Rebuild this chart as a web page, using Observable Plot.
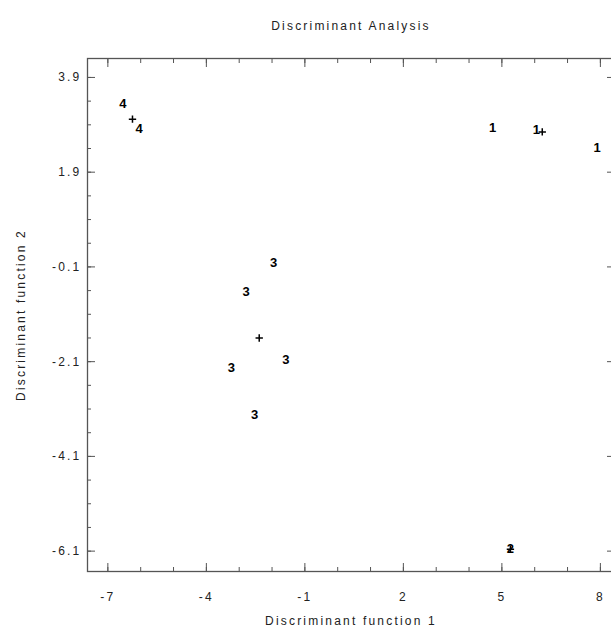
<!DOCTYPE html>
<html><head><meta charset="utf-8">
<script src="https://cdn.jsdelivr.net/npm/d3@7"></script>
<script src="https://cdn.jsdelivr.net/npm/@observablehq/plot@0.6"></script>
<style>html,body{margin:0;padding:0;background:#fff;overflow:hidden}
svg.da-chart text{letter-spacing:2.2px}
svg.da-chart g.pts text{letter-spacing:0}
</style>
</head><body><div id="chart"></div>
<script>
const title = "Discriminant Analysis";
const xLabel = "Discriminant function 1";
const yLabel = "Discriminant function 2";
const groups = ["4","4","1","1","1","3","3","3","3","3","2"];
const df1 = [-6.54,-6.05,4.72,6.05,7.90,-1.95,-2.79,-1.58,-3.24,-2.53,5.26];
const df2 = [3.34,2.81,2.84,2.79,2.41,-0.01,-0.63,-2.06,-2.23,-3.23,-6.06];
const centroidX = [-6.25, 6.23, -2.39, 5.26];
const centroidY = [3.02, 2.75, -1.60, -6.06];
const xMajorTicks = [-7,-4,-1,2,5,8];
const xMinorTicks = [-7,-6,-5,-4,-3,-2,-1,0,1,2,3,4,5,6,7,8];
const yMajorTicks = [3.9,1.9,-0.1,-2.1,-4.1,-6.1];
const yMinorTicks = [3.9,3.4,2.9,2.4,1.9,1.4,0.9,0.4,-0.1,-0.6,-1.1,-1.6,-2.1,-2.6,-3.1,-3.6,-4.1,-4.6,-5.1,-5.6,-6.1];

const points = groups.map((g, i) => ({g, x: df1[i], y: df2[i]}));
const centroids = centroidX.map((x, i) => ({x, y: centroidY[i]}));

const axisColor = "#555";
const textColor = "#222";
const fmt = d => String(d);

const chart = Plot.plot({
  width: 611,
  height: 630,
  marginLeft: 87,
  marginTop: 58,
  marginBottom: 59,
  marginRight: -3,
  className: "da-chart",
  style: {fontFamily: "'Liberation Sans', Arial, sans-serif", fontSize: "12px", color: textColor, background: "#fff", overflow: "hidden"},
  x: {domain: [-7.62, 8.43]},
  y: {domain: [-6.53, 4.30]},
  marks: [
    Plot.frame({stroke: axisColor, strokeWidth: 1.3}),
    // major ticks (inward)
    Plot.axisX(xMajorTicks, {anchor: "bottom", tickSize: -8, text: null, label: null, stroke: axisColor}),
    Plot.axisX(xMajorTicks, {anchor: "top", tickSize: -8, text: null, label: null, stroke: axisColor}),
    Plot.axisY(yMajorTicks, {anchor: "left", tickSize: -8, text: null, label: null, stroke: axisColor}),
    Plot.axisY(yMajorTicks, {anchor: "right", tickSize: -8, text: null, label: null, stroke: axisColor}),
    // minor ticks (inward)
    Plot.axisX(xMinorTicks, {anchor: "bottom", tickSize: -4, text: null, label: null, stroke: axisColor}),
    Plot.axisX(xMinorTicks, {anchor: "top", tickSize: -4, text: null, label: null, stroke: axisColor}),
    Plot.axisY(yMinorTicks, {anchor: "left", tickSize: -4, text: null, label: null, stroke: axisColor}),
    Plot.axisY(yMinorTicks, {anchor: "right", tickSize: -4, text: null, label: null, stroke: axisColor}),
    // tick labels + axis titles
    Plot.axisX(xMajorTicks, {anchor: "bottom", tickSize: 0, tickPadding: 21, tickFormat: fmt, fill: textColor,
      label: xLabel, labelAnchor: "center", labelArrow: "none", labelOffset: 53}),
    Plot.axisY(yMajorTicks, {anchor: "left", tickSize: 0, tickPadding: 6, tickFormat: fmt, fill: textColor,
      label: yLabel, labelAnchor: "center", labelArrow: "none", labelOffset: 71}),
    // title
    Plot.text([title], {frameAnchor: "top", dy: -37, fill: textColor, fontSize: 12}),
    // observations
    Plot.text(points, {x: "x", y: "y", text: "g", fontWeight: "bold", fontSize: 13, fill: "#000", className: "pts"}),
    // group centroids
    Plot.dot(centroids, {x: "x", y: "y", symbol: "plus", r: 2.5, stroke: "#000", strokeWidth: 1.5})
  ]
});
document.getElementById("chart").appendChild(chart);
</script>
</body></html>
